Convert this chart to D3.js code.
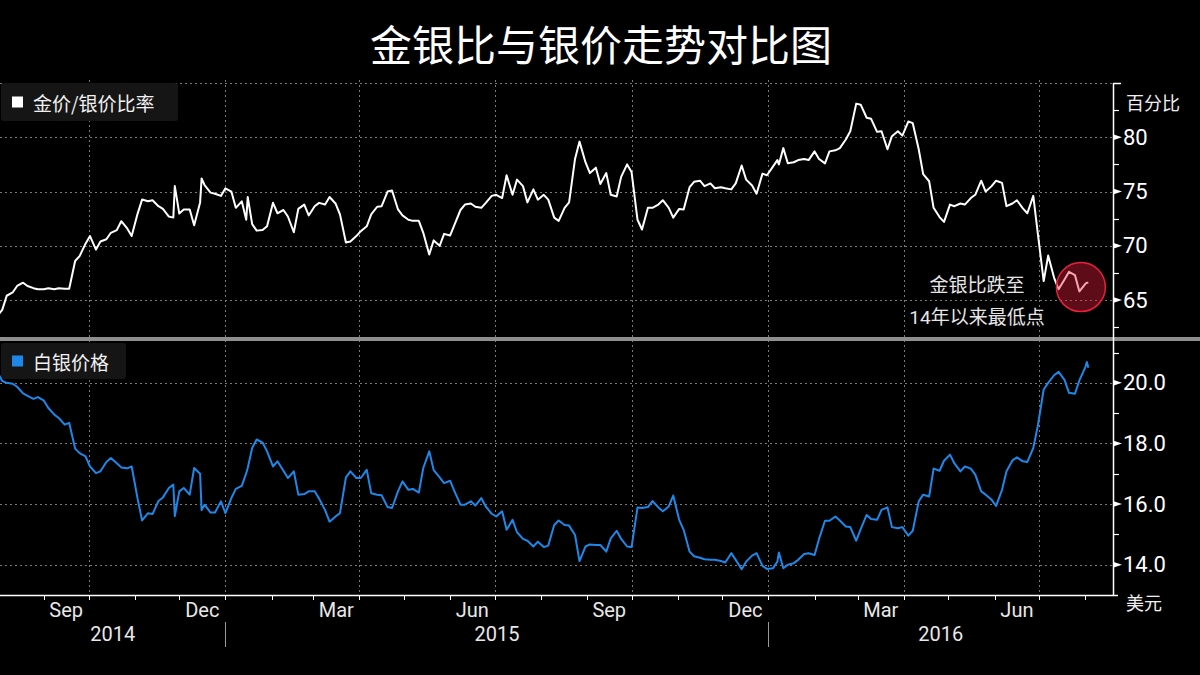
<!DOCTYPE html>
<html><head><meta charset="utf-8">
<script src="https://cdn.jsdelivr.net/npm/d3@7"></script>
<style>
html,body{margin:0;padding:0;background:#000;}
svg{display:block;}
</style>
</head><body>
<svg id="chart" width="1200" height="675"></svg>
<script>
// ---------- DATA ----------
const dates = [
"2014-08-01","2014-08-04","2014-08-07","2014-08-11","2014-08-14","2014-08-18","2014-08-21","2014-08-25","2014-08-28",
"2014-09-01","2014-09-04","2014-09-08","2014-09-11","2014-09-15","2014-09-18","2014-09-22","2014-09-25","2014-09-29",
"2014-10-02","2014-10-06","2014-10-09","2014-10-13","2014-10-16","2014-10-20","2014-10-23","2014-10-27","2014-10-30",
"2014-11-03","2014-11-06","2014-11-10","2014-11-13","2014-11-17","2014-11-20","2014-11-24","2014-11-27","2014-11-28",
"2014-12-01","2014-12-04","2014-12-08","2014-12-11","2014-12-15","2014-12-16","2014-12-18","2014-12-22","2014-12-25","2014-12-29",
"2015-01-01","2015-01-05","2015-01-08","2015-01-12","2015-01-15","2015-01-16","2015-01-19","2015-01-22","2015-01-26","2015-01-29",
"2015-02-02","2015-02-05","2015-02-09","2015-02-12","2015-02-16","2015-02-19","2015-02-23","2015-02-26",
"2015-03-02","2015-03-05","2015-03-09","2015-03-12","2015-03-16","2015-03-19","2015-03-23","2015-03-26","2015-03-30",
"2015-04-02","2015-04-06","2015-04-09","2015-04-13","2015-04-16","2015-04-20","2015-04-23","2015-04-27","2015-04-30",
"2015-05-04","2015-05-07","2015-05-11","2015-05-14","2015-05-18","2015-05-21","2015-05-25","2015-05-28",
"2015-06-01","2015-06-04","2015-06-08","2015-06-11","2015-06-15","2015-06-18","2015-06-22","2015-06-25","2015-06-29",
"2015-07-02","2015-07-06","2015-07-09","2015-07-13","2015-07-16","2015-07-20","2015-07-23","2015-07-27","2015-07-30",
"2015-08-03","2015-08-06","2015-08-10","2015-08-13","2015-08-17","2015-08-20","2015-08-24","2015-08-27","2015-08-31",
"2015-09-03","2015-09-07","2015-09-10","2015-09-14","2015-09-17","2015-09-21","2015-09-24","2015-09-28",
"2015-10-01","2015-10-05","2015-10-08","2015-10-12","2015-10-15","2015-10-19","2015-10-22","2015-10-26","2015-10-29",
"2015-11-02","2015-11-05","2015-11-09","2015-11-12","2015-11-16","2015-11-19","2015-11-23","2015-11-26","2015-11-30",
"2015-12-03","2015-12-07","2015-12-10","2015-12-14","2015-12-17","2015-12-21","2015-12-24","2015-12-28","2015-12-31",
"2016-01-04","2016-01-07","2016-01-08","2016-01-11","2016-01-14","2016-01-18","2016-01-21","2016-01-25","2016-01-28",
"2016-02-01","2016-02-04","2016-02-08","2016-02-11","2016-02-15","2016-02-18","2016-02-22","2016-02-25","2016-02-29",
"2016-03-03","2016-03-07","2016-03-10","2016-03-14","2016-03-17","2016-03-21","2016-03-24","2016-03-28","2016-03-31",
"2016-04-04","2016-04-07","2016-04-11","2016-04-14","2016-04-18","2016-04-21","2016-04-25","2016-04-28",
"2016-05-02","2016-05-05","2016-05-09","2016-05-12","2016-05-16","2016-05-19","2016-05-23","2016-05-26","2016-05-30",
"2016-06-02","2016-06-06","2016-06-09","2016-06-13","2016-06-16","2016-06-20","2016-06-23","2016-06-27","2016-06-30",
"2016-07-04","2016-07-07","2016-07-11","2016-07-14","2016-07-18","2016-07-21","2016-07-25","2016-07-28",
"2016-08-01","2016-08-02","2016-08-03"
];

// 金价/银价比率
const ratioValues = [
63.6,64.1,65.4,65.7,66.3,66.6,66.3,66.1,66.0,
66.0,66.1,66.0,66.1,66.05,66.05,68.6,69.05,70.2,
70.9,69.65,70.4,70.6,71.2,71.45,72.27,71.6,70.9,
72.97,74.26,74.1,74.2,73.65,73.4,72.7,72.6,75.5,
72.97,73.35,73.35,71.9,74.0,76.2,75.6,74.9,74.8,74.6,
75.3,75.0,73.5,74.1,72.4,74.5,72.0,71.4,71.45,71.8,
73.96,73.0,73.3,72.7,71.25,73.4,73.8,72.8,
73.65,73.96,73.8,74.5,73.9,72.9,70.3,70.4,70.9,
71.35,71.8,72.9,73.6,73.65,75.0,75.1,73.35,72.8,
72.4,72.3,72.3,71.2,69.2,70.5,70.0,71.1,
70.95,71.95,73.3,73.8,73.9,73.6,73.5,73.95,74.6,
74.7,74.4,76.5,74.7,76.1,75.5,74.0,75.2,74.25,
74.7,74.25,72.6,72.3,73.5,74.0,78.0,79.6,77.7,
76.7,77.2,75.7,76.7,74.7,74.55,76.35,77.5,
76.8,72.4,71.5,73.5,73.5,73.8,74.2,73.5,72.6,
73.4,73.35,75.4,75.9,76.0,75.5,75.75,75.3,75.4,
75.3,75.2,75.75,77.4,76.1,75.55,74.8,76.65,76.5,
77.3,77.9,77.5,79.0,77.6,77.7,77.9,78.0,77.9,
78.7,78.0,77.6,78.7,78.8,79.0,79.8,80.55,83.1,
83.0,81.8,81.7,80.5,80.55,78.9,80.1,80.55,80.15,
81.45,81.3,78.9,76.6,75.95,73.5,72.65,72.2,
73.8,73.65,73.9,73.8,74.4,74.7,76.0,75.0,75.5,
76.0,75.8,73.65,73.9,74.2,73.45,73.0,74.6,71.2,
66.75,69.1,67.05,66.0,66.9,67.6,67.3,65.8,
66.5,66.6,66.6
];

// 白银价格 (美元)
const silverValues = [
20.33,20.06,20.0,19.97,19.87,19.65,19.57,19.47,19.53,
19.41,19.17,18.95,18.84,18.62,18.68,17.83,17.68,17.57,
17.24,17.02,17.08,17.39,17.52,17.35,17.21,17.18,17.24,
16.17,15.46,15.7,15.67,16.1,16.22,16.53,16.64,15.6,
16.42,16.53,16.31,17.19,17.0,15.8,15.98,15.72,15.72,16.09,
15.7,16.2,16.5,16.6,17.02,17.19,17.85,18.13,18.03,17.74,
17.24,17.41,17.1,16.86,17.08,16.31,16.33,16.42,
16.42,16.18,15.8,15.42,15.59,15.7,16.88,17.08,16.86,
16.86,17.13,16.36,16.31,16.29,15.9,15.87,16.42,16.75,
16.47,16.5,16.38,17.19,17.74,17.12,16.88,16.69,
16.77,16.42,15.98,15.98,16.09,15.95,16.2,15.92,15.68,
15.59,15.76,15.15,15.48,15.07,14.85,14.79,14.6,14.76,
14.58,14.63,15.31,15.46,15.31,15.29,14.98,14.12,14.6,
14.67,14.65,14.65,14.43,14.87,15.12,14.85,14.6,
14.58,15.89,15.87,15.9,16.1,15.89,15.76,15.92,16.28,
15.48,15.15,14.43,14.28,14.23,14.18,14.16,14.16,14.12,
14.07,14.38,14.16,13.85,14.1,14.3,14.38,13.96,13.86,
13.88,14.1,14.4,13.88,14.0,14.05,14.16,14.35,14.38,
14.32,14.85,15.45,15.45,15.59,15.46,15.26,15.24,14.79,
15.17,15.64,15.51,15.48,15.81,15.89,15.24,15.2,15.24,
14.96,15.12,16.09,16.31,16.25,17.17,17.1,17.43,
17.63,17.34,17.08,17.24,17.17,16.97,16.42,16.31,16.14,
15.94,16.47,17.08,17.44,17.54,17.41,17.39,17.85,18.57,
19.78,20.0,20.25,20.36,20.1,19.67,19.64,20.08,
20.52,20.69,20.5
];

const ratioTicks = [65, 70, 75, 80];
const ratioMinorTicks = [62.5, 67.5, 72.5, 77.5, 82.5];
const silverTicks = [14, 16, 18, 20];
const silverMinorTicks = [15, 17, 19, 21];
const monthTickLabels = ["Sep","Dec","Mar","Jun","Sep","Dec","Mar","Jun"];
const yearLabels = ["2014","2015","2016"];

const titleText = "金银比与银价走势对比图";
const ratioLegend = "金价/银价比率";
const silverLegend = "白银价格";
const ratioUnit = "百分比";
const silverUnit = "美元";
const noteLines = ["金银比跌至", "14年以来最低点"];
const noteDate = "2016-07-29";
const noteValue = 66.2;

// ---------- CHART ----------
const parse = d3.timeParse("%Y-%m-%d");
const ratioData = dates.map((d,i)=>({date:parse(d), value:ratioValues[i]}));
const silverData = dates.map((d,i)=>({date:parse(d), value:silverValues[i]}));

const svg = d3.select("#chart");
const W = 1200, H = 675;
const plotL = 0, plotR = 1113;
const topY0 = 83, topY1 = 337;
const botY0 = 341, botY1 = 595;
const latin = "Roboto, 'Noto Sans CJK SC', sans-serif";
const cjk = "'Noto Sans CJK SC', sans-serif";

const x = d3.scaleTime()
  .domain([new Date(2014,7,2,12), new Date(2016,7,19,14)])
  .range([plotL, plotR]);
const yR = d3.scaleLinear().domain([61.6, 85]).range([topY1, topY0]);
const yS = d3.scaleLinear().domain([13, 21.4]).range([botY1, 340.4]);

svg.append("rect").attr("width",W).attr("height",H).attr("fill","#000");

// title
svg.append("text").attr("x",601).attr("y",42)
  .attr("text-anchor","middle").attr("dominant-baseline","central")
  .attr("font-family",cjk).attr("font-size",42).attr("fill","#fff")
  .text(titleText);

const defs = svg.append("defs");
defs.append("clipPath").attr("id","clipTop").append("rect")
  .attr("x",plotL).attr("y",topY0).attr("width",plotR-plotL).attr("height",topY1-topY0);
defs.append("clipPath").attr("id","clipBot").append("rect")
  .attr("x",plotL).attr("y",botY0).attr("width",plotR-plotL).attr("height",botY1-botY0);

const gridColor = "#7a7a7a";
const grid = svg.append("g").attr("stroke",gridColor).attr("stroke-width",1)
  .attr("stroke-dasharray","2,3").attr("fill","none");

// horizontal grids
grid.selectAll(".hgt").data(ratioTicks.concat([85])).join("line")
  .attr("x1",plotL).attr("x2",plotR)
  .attr("y1",d=>Math.round(yR(d))+0.5).attr("y2",d=>Math.round(yR(d))+0.5);
grid.selectAll(".hgb").data(silverTicks).join("line")
  .attr("x1",plotL).attr("x2",plotR)
  .attr("y1",d=>Math.round(yS(d))+0.5).attr("y2",d=>Math.round(yS(d))+0.5);

// vertical grids at quarter starts
const [d0, d1] = x.domain();
const quarterStarts = d3.timeMonth.every(3).range(d0, d1);
grid.selectAll(".vg").data(quarterStarts).join("line")
  .attr("x1",d=>Math.round(x(d))+0.5).attr("x2",d=>Math.round(x(d))+0.5)
  .attr("y1",80).attr("y2",botY1);

// legend boxes
function legend(y, h, w, color, label){
  const g = svg.append("g");
  g.append("rect").attr("x",1).attr("y",y).attr("width",w).attr("height",h)
    .attr("rx",3).attr("fill","#151515");
  g.append("rect").attr("x",12).attr("y",y+h/2-5.5).attr("width",11).attr("height",11)
    .attr("fill",color);
  g.append("text").attr("x",33).attr("y",y+h/2).attr("dominant-baseline","central")
    .attr("font-family",cjk).attr("font-size",19).attr("fill","#f0f0f0").text(label);
}
legend(83, 38, 177, "#ffffff", ratioLegend);
legend(343, 36, 125, "#1e88e8", silverLegend);

// lines
const lineR = d3.line().x(d=>x(d.date)).y(d=>yR(d.value));
const lineS = d3.line().x(d=>x(d.date)).y(d=>yS(d.value));
svg.append("path").datum(ratioData).attr("clip-path","url(#clipTop)")
  .attr("d",lineR).attr("fill","none").attr("stroke","#ffffff")
  .attr("stroke-width",2).attr("stroke-linejoin","round");
svg.append("path").datum(silverData).attr("clip-path","url(#clipBot)")
  .attr("d",lineS).attr("fill","none").attr("stroke","#1e88e8")
  .attr("stroke-width",2).attr("stroke-linejoin","round");

// highlight circle + annotation
const cx = x(parse(noteDate)), cy = yR(noteValue);
svg.append("circle").attr("cx",cx).attr("cy",cy).attr("r",24.5)
  .attr("fill","rgba(235,33,60,0.4)").attr("stroke","#e8203c").attr("stroke-width",1.5);
svg.selectAll(".note").data(noteLines).join("text")
  .attr("x",977).attr("y",(d,i)=>285+i*32)
  .attr("text-anchor","middle").attr("dominant-baseline","central")
  .attr("font-family",latin).attr("font-size",19).attr("fill","#e6e6e6")
  .text(d=>d);

// divider
svg.append("rect").attr("x",0).attr("y",337).attr("width",W).attr("height",4).attr("fill","#8e8e8e");

// right axis line
const ax = svg.append("g").attr("stroke","#fff").attr("fill","#fff");
ax.append("line").attr("x1",plotR+0.5).attr("x2",plotR+0.5).attr("y1",topY0).attr("y2",botY1+0.5)
  .attr("stroke-width",1.5);
// bottom axis line
ax.append("line").attr("x1",plotL).attr("x2",plotR+0.5).attr("y1",botY1+0.5).attr("y2",botY1+0.5)
  .attr("stroke-width",1.5);
// top flag and bottom end tick
ax.append("line").attr("x1",plotR).attr("x2",plotR+8).attr("y1",topY0+0.5).attr("y2",topY0+0.5).attr("stroke-width",1.5);
ax.append("line").attr("x1",plotR).attr("x2",plotR+5).attr("y1",botY1+0.5).attr("y2",botY1+0.5).attr("stroke-width",1.5);

function majorMarks(vals, scale){
  ax.selectAll(null).data(vals).join("path")
    .attr("stroke","none")
    .attr("d",d=>{const y=scale(d); return `M${plotR},${y-3}L${plotR+9},${y}L${plotR},${y+3}Z`;});
}
function minorMarks(vals, scale){
  ax.selectAll(null).data(vals).join("line")
    .attr("x1",plotR).attr("x2",plotR+6)
    .attr("y1",d=>Math.round(scale(d))+0.5).attr("y2",d=>Math.round(scale(d))+0.5)
    .attr("stroke-width",1.2);
}
majorMarks(ratioTicks, yR); minorMarks(ratioMinorTicks, yR);
majorMarks(silverTicks, yS); minorMarks(silverMinorTicks, yS);

// tick labels using d3 axes
const axR = svg.append("g").attr("transform",`translate(${plotR},0)`)
  .call(d3.axisRight(yR).tickValues(ratioTicks).tickSize(0).tickPadding(10).tickFormat(d3.format("d")));
const axS = svg.append("g").attr("transform",`translate(${plotR},0)`)
  .call(d3.axisRight(yS).tickValues(silverTicks).tickSize(0).tickPadding(10).tickFormat(d3.format(".1f")));
[axR, axS].forEach(g=>{
  g.select(".domain").remove();
  g.selectAll("text").attr("fill","#fff").attr("font-family",latin).attr("font-size",22);
});

// units
svg.append("text").attr("x",1126).attr("y",102).attr("dominant-baseline","central")
  .attr("font-family",cjk).attr("font-size",18).attr("fill","#f0f0f0").text(ratioUnit);
svg.append("text").attr("x",1126).attr("y",602).attr("dominant-baseline","central")
  .attr("font-family",cjk).attr("font-size",18).attr("fill","#f0f0f0").text(silverUnit);

// x axis: month ticks
const monthStarts = d3.timeMonth.range(d0, d1);
ax.selectAll(null).data(monthStarts).join("line")
  .attr("x1",d=>Math.round(x(d))+0.5).attr("x2",d=>Math.round(x(d))+0.5)
  .attr("y1",botY1).attr("y2",botY1+5).attr("stroke-width",1);

// month labels at middle of quarter-end months
const quarterEndMonths = monthStarts.filter(d=>(d.getMonth()+1)%3===0);
svg.selectAll(".ml").data(quarterEndMonths).join("text")
  .attr("x",d=>x(new Date((+d + +d3.timeMonth.offset(d,1))/2)))
  .attr("y",610).attr("text-anchor","middle").attr("dominant-baseline","central")
  .attr("font-family",latin).attr("font-size",20).attr("fill","#e8e8e8")
  .text((d,i)=>monthTickLabels[i]);

// years
const yearStarts = d3.timeYear.range(d0, d1);
const bounds = [d0].concat(yearStarts).concat([x.invert(plotR)]);
svg.selectAll(".yl").data(yearLabels).join("text")
  .attr("x",(d,i)=>(x(bounds[i])+x(bounds[i+1]))/2)
  .attr("y",634).attr("text-anchor","middle").attr("dominant-baseline","central")
  .attr("font-family",latin).attr("font-size",20).attr("fill","#e8e8e8")
  .text(d=>d);
svg.selectAll(".ys").data(yearStarts).join("line")
  .attr("x1",d=>Math.round(x(d))+0.5).attr("x2",d=>Math.round(x(d))+0.5)
  .attr("y1",622).attr("y2",647).attr("stroke","#9a9a9a").attr("stroke-width",1);
</script>
</body></html>
